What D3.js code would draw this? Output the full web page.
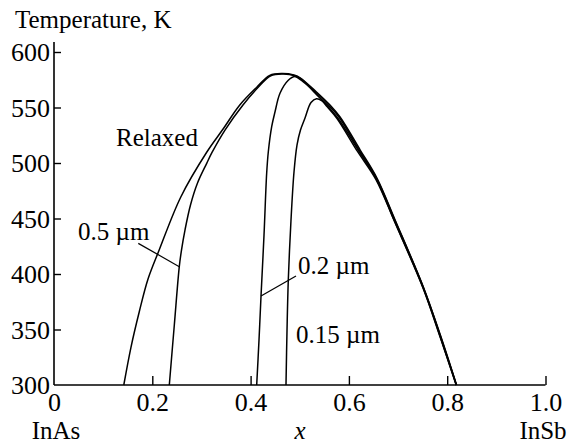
<!DOCTYPE html>
<html><head><meta charset="utf-8">
<script src="https://cdn.jsdelivr.net/npm/d3@7/dist/d3.min.js"></script>
<style>
html,body{margin:0;padding:0;background:#fff;}
svg text{font-family:"Liberation Serif","Times New Roman",serif;fill:#000;}
</style></head>
<body><svg id="chart" width="572" height="445"></svg>
<script>
// ---- data ----
const xTicks = [0, 0.2, 0.4, 0.6, 0.8, 1.0];
const xTickLabels = ["0", "0.2", "0.4", "0.6", "0.8", "1.0"];
const yTicks = [300, 350, 400, 450, 500, 550, 600];
const yTickLabels = ["300", "350", "400", "450", "500", "550", "600"];

const relaxedX = [0.142,0.1567,0.1735,0.1913,0.214,0.258,0.311,0.344,0.378,0.413,0.439,0.464,0.488,0.5,0.534,0.562,0.582,0.623,0.657,0.694,0.751,0.786,0.819];
const relaxedT = [300,334.2,366,395.5,421.6,469.4,509.9,530.6,552.3,568.5,579,580.6,579.3,577,564,552,541.4,511.7,486.5,448.6,388.6,345,300];

const um05X = [0.2346,0.2448,0.2549,0.2594,0.2665,0.2777,0.292,0.3107,0.3215,0.3479,0.3845,0.416,0.441,0.464,0.488,0.5325,0.5601,0.5805,0.6212,0.6566,0.6938,0.7514,0.786,0.8189];
const um05T = [300,354.1,406.6,421.6,439.6,462.2,482,499.7,509.5,529.7,552.3,568.5,578.6,580.2,578.8,563.5,551.4,541,511.3,486,448.2,388.3,344.6,300];

const um02X = [0.4124,0.4171,0.4212,0.4273,0.4327,0.436,0.4429,0.4496,0.4598,0.4767,0.4903,0.5046,0.532,0.5585,0.5788,0.62,0.6557,0.6928,0.7508,0.7853,0.8185];
const um02T = [300,340.5,380.2,435.1,490.7,509.9,532.7,545.9,562.8,574.5,577.9,575.2,562.6,550.5,539.6,510.8,485.6,447.7,387.8,344.1,300];

const um015X = [0.472,0.4741,0.4767,0.4822,0.4883,0.4944,0.5015,0.5107,0.5229,0.5341,0.5453,0.5554,0.5758,0.6175,0.6551,0.6928,0.7508,0.7853,0.8183];
const um015T = [300,349.5,394.6,448.6,491.9,516.2,529.7,540.5,554.5,557.9,555.9,550.9,540.1,510.4,485.1,447.3,387.4,343.7,300];

const seriesNames = ["Relaxed", "0.5 \u00B5m", "0.2 \u00B5m", "0.15 \u00B5m"];

// leader lines from label to curve, in data units [x, T]
const leader05 = [[0.1715, 427.6], [0.2549, 406.6]];
const leader02 = [[0.4212, 380.2], [0.4924, 398.2]];

// ---- chart ----
const svg = d3.select("#chart");
const x = d3.scaleLinear().domain([0, 1]).range([54, 545.5]);
const y = d3.scaleLinear().domain([300, 600]).range([385, 52]);
const FS = 25, TFS = 26;

// axes
const xAxis = d3.axisBottom(x).tickValues(xTicks).tickSizeInner(-9).tickSizeOuter(0)
  .tickFormat((d, i) => xTickLabels[i]);
const gx = svg.append("g").attr("transform", "translate(0,385)").call(xAxis);
gx.select(".domain").remove();
gx.selectAll(".tick line").attr("stroke", "#000").attr("stroke-width", 1.4)
  .filter(d => d === 0).remove();
gx.selectAll(".tick text").attr("font-size", TFS).attr("y", 8).attr("dy", "0.71em")
  .style("font-family", '"Liberation Serif", serif');

const yAxis = d3.axisLeft(y).tickValues(yTicks).tickSizeInner(-7).tickSizeOuter(0)
  .tickFormat((d, i) => yTickLabels[i]);
const gy = svg.append("g").attr("transform", "translate(54,0)").call(yAxis);
gy.select(".domain").remove();
gy.selectAll(".tick line").attr("stroke", "#000").attr("stroke-width", 1.4)
  .filter(d => d === 300).remove();
gy.selectAll(".tick text").attr("font-size", TFS).attr("x", -4).attr("dy", "0.33em")
  .style("font-family", '"Liberation Serif", serif');

// axis lines
svg.append("line").attr("x1", x(0)).attr("x2", x(0)).attr("y1", 42).attr("y2", y(300))
  .attr("stroke", "#000").attr("stroke-width", 1.6);
svg.append("line").attr("x1", x(0)).attr("x2", x(1)).attr("y1", y(300)).attr("y2", y(300))
  .attr("stroke", "#000").attr("stroke-width", 1.6);

// curves
const line = d3.line().x(d => x(d[0])).y(d => y(d[1])).curve(d3.curveCatmullRom.alpha(0.5));
const zip = (a, b) => a.map((v, i) => [v, b[i]]);
const series = [zip(relaxedX, relaxedT), zip(um05X, um05T), zip(um02X, um02T), zip(um015X, um015T)];
svg.selectAll("path.curve").data(series).enter().append("path").attr("class", "curve")
  .attr("d", line).attr("fill", "none").attr("stroke", "#000").attr("stroke-width", 1.5);

// leader lines
[leader05, leader02].forEach(l => {
  svg.append("path").attr("d", d3.line().x(d => x(d[0])).y(d => y(d[1]))(l))
    .attr("fill", "none").attr("stroke", "#000").attr("stroke-width", 1.2);
});

// labels
const labelData = [
  {t: "Temperature, K", x: 15, y: 28},
  {t: seriesNames[0], x: 116, y: 146},
  {t: seriesNames[1], x: 78, y: 240},
  {t: seriesNames[2], x: 298, y: 274},
  {t: seriesNames[3], x: 296, y: 343},
  {t: "InAs", x: 56, y: 439, a: "middle"},
  {t: "InSb", x: 543, y: 439, a: "middle"}
];
labelData.forEach(l => {
  svg.append("text").attr("x", l.x).attr("y", l.y).attr("font-size", FS)
    .attr("text-anchor", l.a || "start").text(l.t);
});
svg.append("text").attr("x", 300).attr("y", 439).attr("font-size", FS)
  .attr("text-anchor", "middle").attr("font-style", "italic").text("x");
</script>
</body></html>
